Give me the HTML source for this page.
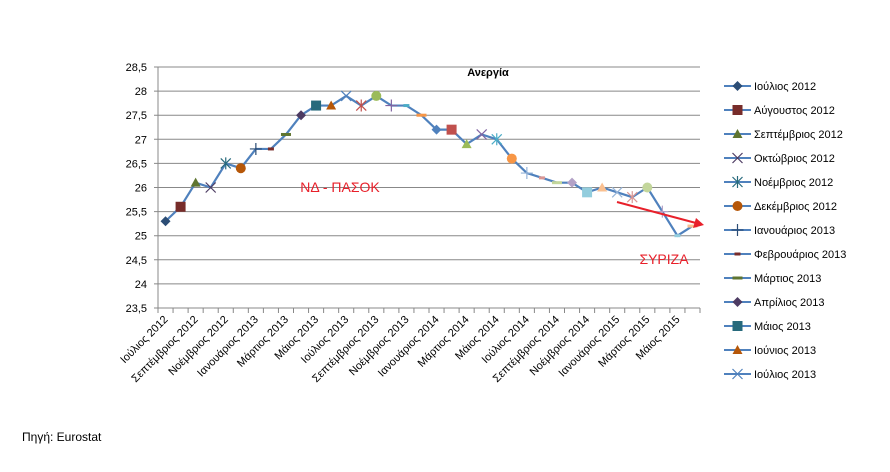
<!DOCTYPE html>
<html><head><meta charset="utf-8"><style>
body{margin:0;background:#fff;}
svg text{font-family:"Liberation Sans","DejaVu Sans",sans-serif;}
</style></head><body>
<svg id="chart" width="890" height="467" viewBox="0 0 890 467"></svg>
<script>
const categories=["Ιούλιος 2012","Αύγουστος 2012","Σεπτέμβριος 2012","Οκτώβριος 2012","Νοέμβριος 2012","Δεκέμβριος 2012","Ιανουάριος 2013","Φεβρουάριος 2013","Μάρτιος 2013","Απρίλιος 2013","Μάιος 2013","Ιούνιος 2013","Ιούλιος 2013","Αύγουστος 2013","Σεπτέμβριος 2013","Οκτώβριος 2013","Νοέμβριος 2013","Δεκέμβριος 2013","Ιανουάριος 2014","Φεβρουάριος 2014","Μάρτιος 2014","Απρίλιος 2014","Μάιος 2014","Ιούνιος 2014","Ιούλιος 2014","Αύγουστος 2014","Σεπτέμβριος 2014","Οκτώβριος 2014","Νοέμβριος 2014","Δεκέμβριος 2014","Ιανουάριος 2015","Φεβρουάριος 2015","Μάρτιος 2015","Απρίλιος 2015","Μάιος 2015","Ιούνιος 2015"];
const values=[25.3,25.6,26.1,26.0,26.5,26.4,26.8,26.8,27.1,27.5,27.7,27.7,27.9,27.7,27.9,27.7,27.7,27.5,27.2,27.2,26.9,27.1,27.0,26.6,26.3,26.2,26.1,26.1,25.9,26.0,25.9,25.8,26.0,25.5,25.0,25.2];
const yTicks=[23.5,24,24.5,25,25.5,26,26.5,27,27.5,28,28.5];
const yTickLabels=["23,5","24","24,5","25","25,5","26","26,5","27","27,5","28","28,5"];
const legendLabels=["Ιούλιος 2012","Αύγουστος 2012","Σεπτέμβριος 2012","Οκτώβριος 2012","Νοέμβριος 2012","Δεκέμβριος 2012","Ιανουάριος 2013","Φεβρουάριος 2013","Μάρτιος 2013","Απρίλιος 2013","Μάιος 2013","Ιούνιος 2013","Ιούλιος 2013"];

const NS="http://www.w3.org/2000/svg";
const svg=document.getElementById('chart');
const X0=158,X1=700,Y0=308,Y1=67,YMIN=23.5,YMAX=28.5;
const step=(X1-X0)/categories.length;
function xPos(i){return X0+step*(i+0.5);}
function yPos(v){return Y0-(v-YMIN)/(YMAX-YMIN)*(Y0-Y1);}
function el(tag,attrs,parent){const e=document.createElementNS(NS,tag);for(const k in attrs)e.setAttribute(k,attrs[k]);(parent||svg).appendChild(e);return e;}

const baseColors=[["#2C4D75","#4F81BD","#95B3D7"],["#772C2A","#C0504D","#D99694"],["#5F7530","#9BBB59","#C3D69B"],["#4D3B62","#8064A2","#B3A2C7"],["#276A7C","#4BACC6","#93CDDD"],["#B65708","#F79646","#FAC090"]];
const shapes=["diamond","square","triangle","x","star","circle","plus","dashS","dashL"];
function colorFor(i){return baseColors[i%6][Math.min(2,Math.floor(i/12))];}
function marker(shape,x,y,c,g){
  if(shape==="diamond")el('path',{d:`M${x} ${y-5}L${x+5} ${y}L${x} ${y+5}L${x-5} ${y}Z`,fill:c},g);
  else if(shape==="square")el('rect',{x:x-5,y:y-5,width:10,height:10,fill:c},g);
  else if(shape==="triangle")el('path',{d:`M${x} ${y-5}L${x+5} ${y+4}L${x-5} ${y+4}Z`,fill:c},g);
  else if(shape==="x")el('path',{d:`M${x-5} ${y-5}L${x+5} ${y+5}M${x+5} ${y-5}L${x-5} ${y+5}`,stroke:c,'stroke-width':1.2},g);
  else if(shape==="star")el('path',{d:`M${x-5} ${y-5}L${x+5} ${y+5}M${x+5} ${y-5}L${x-5} ${y+5}M${x} ${y-6}L${x} ${y+6}`,stroke:c,'stroke-width':1.2},g);
  else if(shape==="circle")el('circle',{cx:x,cy:y,r:5,fill:c},g);
  else if(shape==="plus")el('path',{d:`M${x-6} ${y}L${x+6} ${y}M${x} ${y-6}L${x} ${y+6}`,stroke:c,'stroke-width':1.2},g);
  else if(shape==="dashS")el('rect',{x:x-3,y:y-1.5,width:6,height:3,fill:c},g);
  else el('rect',{x:x-5,y:y-1.5,width:10,height:3,fill:c},g);
}

// gridlines & y labels
yTicks.forEach((v,i)=>{
  const y=yPos(v);
  const g=el('line',{x1:X0-4,x2:X1,y1:y,y2:y,stroke:'#888','stroke-width':1});
  
  
  const t=el('text',{x:X0-11,y:y+4,'text-anchor':'end','font-size':11,fill:'#000'});
  t.textContent=yTickLabels[i];
  
  
});
el('line',{x1:X0,x2:X0,y1:Y1,y2:Y0,stroke:'#888'});
// x ticks
for(let i=0;i<=categories.length;i++){
  const x=X0+step*i;
  el('line',{x1:x,x2:x,y1:Y0,y2:Y0+5,stroke:'#888'});
}
categories.forEach((c,i)=>{
  if(i%2)return;
  const x=xPos(i)+3,y=Y0+12;
  const t=el('text',{x:x,y:y,'text-anchor':'end','font-size':11,transform:`rotate(-45 ${x} ${y})`});
  t.textContent=c;
  
  
});
// line
const pts=values.map((v,i)=>xPos(i)+','+yPos(v)).join(' ');
const line=el('polyline',{points:pts,fill:'none',stroke:'#4F81BD','stroke-width':2.2});


values.forEach((v,i)=>{
  const g=el('g',{});
  
  
  marker(shapes[i%9],xPos(i),yPos(v),colorFor(i),g);
});
// title
const title=el('text',{x:488,y:76,'text-anchor':'middle','font-size':11,'font-weight':'bold'});
title.textContent="Ανεργία";


// annotations
const a1=el('text',{x:340,y:192,'text-anchor':'middle','font-size':14,fill:'#E8202A'});
a1.textContent="ΝΔ - ΠΑΣΟΚ";


const a2=el('text',{x:664,y:264,'text-anchor':'middle','font-size':14,fill:'#E8202A'});
a2.textContent="ΣΥΡΙΖΑ";


const arrow=el('g',{});


el('line',{x1:617,y1:202,x2:696,y2:223,stroke:'#E8202A','stroke-width':2},arrow);
el('path',{d:'M704 225L693 228L696 218Z',fill:'#E8202A'},arrow);
// legend
legendLabels.forEach((l,i)=>{
  const y=86+i*24;
  const g=el('g',{});
  
  
  el('line',{x1:724,x2:751,y1:y,y2:y,stroke:'#4F81BD','stroke-width':2},g);
  marker(shapes[i%9],737.5,y,colorFor(i),g);
  const t=el('text',{x:754,y:y+4,'font-size':11},g);
  t.textContent=l;
});
const src=el('text',{x:22,y:441,'font-size':12});
src.textContent="Πηγή: Eurostat";


</script>
</body></html>
